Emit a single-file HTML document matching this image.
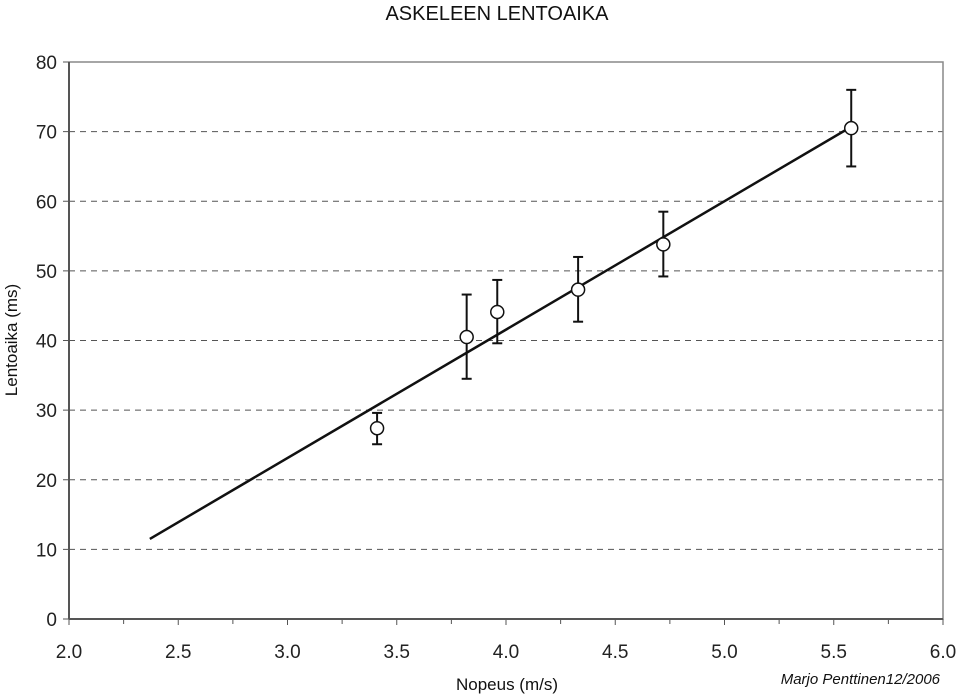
<!DOCTYPE html>
<html><head><meta charset="utf-8"><style>
body{margin:0;background:#fff;font-family:"Liberation Sans",sans-serif}
svg{display:block}
</style></head><body>
<svg id="c" width="960" height="695">
<text x="497" y="20" text-anchor="middle" font-size="20" fill="#111">ASKELEEN LENTOAIKA</text>
<g id="grid"></g><g id="axes"></g><g id="marks"></g>
<text x="507" y="690" text-anchor="middle" font-size="17" fill="#111">Nopeus (m/s)</text>
<text transform="translate(17,340) rotate(-90)" text-anchor="middle" font-size="17" fill="#111">Lentoaika (ms)</text>
<text x="940" y="684" text-anchor="end" font-size="15" font-style="italic" fill="#111">Marjo Penttinen12/2006</text>
</svg>
<script>
const xTicks=[2.0,2.5,3.0,3.5,4.0,4.5,5.0,5.5,6.0];
const yTicks=[0,10,20,30,40,50,60,70,80];
const speeds=[3.41,3.82,3.96,4.33,4.72,5.58];
const times=[27.4,40.5,44.1,47.3,53.8,70.5];
const errLow=[25.1,34.5,39.6,42.7,49.2,65.0];
const errHigh=[29.6,46.6,48.7,52.0,58.5,76.0];
const fitX=[2.37,5.58];
const fitY=[11.5,70.7];
const X0=69,X1=943,Y0=619,Y1=62;
const sx=v=>X0+(v-2)/4*(X1-X0);
const sy=v=>Y0-v/80*(Y0-Y1);
const NS="http://www.w3.org/2000/svg";
function mk(p,t,a){const e=document.createElementNS(NS,t);for(const k in a)e.setAttribute(k,a[k]);p.appendChild(e);return e;}
const grid=document.getElementById('grid'),axes=document.getElementById('axes'),marks=document.getElementById('marks');
yTicks.forEach(v=>{
 if(v>0&&v<80){const l=mk(grid,'line',{x1:X0,x2:X1,y1:sy(v),y2:sy(v),stroke:'#555','stroke-dasharray':'6,5','stroke-width':1});
 
 }
 mk(axes,'line',{x1:X0-6,x2:X0,y1:sy(v),y2:sy(v),stroke:'#555'});
 const t=mk(axes,'text',{x:X0-12,y:sy(v)+7,'text-anchor':'end','font-size':19,fill:'#222'});t.textContent=v;
 
 
});
mk(axes,'rect',{x:X0,y:Y1,width:X1-X0,height:Y0-Y1,fill:'none',stroke:'#888','stroke-width':1.5});
mk(axes,'line',{x1:X0,x2:X0,y1:Y1,y2:Y0,stroke:'#555','stroke-width':2});
mk(axes,'line',{x1:X0,x2:X1,y1:Y0,y2:Y0,stroke:'#555','stroke-width':2});
xTicks.forEach((v,i)=>{
 mk(axes,'line',{x1:sx(v),x2:sx(v),y1:Y0,y2:Y0+6,stroke:'#555'});
 if(i<xTicks.length-1)mk(axes,'line',{x1:sx(v+0.25),x2:sx(v+0.25),y1:Y0,y2:Y0+5,stroke:'#555'});
 const t=mk(axes,'text',{x:sx(v),y:Y0+39,'text-anchor':'middle','font-size':19,fill:'#222'});t.textContent=v.toFixed(1);
 
 
});
const fit=mk(marks,'line',{x1:sx(fitX[0]),y1:sy(fitY[0]),x2:sx(fitX[1]),y2:sy(fitY[1]),stroke:'#111','stroke-width':2.5});


speeds.forEach((s,i)=>{
 const g=mk(marks,'g',{});
 
 
 const x=sx(s);
 mk(g,'line',{x1:x,x2:x,y1:sy(errLow[i]),y2:sy(errHigh[i]),stroke:'#111','stroke-width':2});
 mk(g,'line',{x1:x-5,x2:x+5,y1:sy(errLow[i]),y2:sy(errLow[i]),stroke:'#111','stroke-width':2});
 mk(g,'line',{x1:x-5,x2:x+5,y1:sy(errHigh[i]),y2:sy(errHigh[i]),stroke:'#111','stroke-width':2});
 mk(g,'circle',{cx:x,cy:sy(times[i]),r:6.5,fill:'#fff',stroke:'#111','stroke-width':1.5});
});
</script>
</body></html>
